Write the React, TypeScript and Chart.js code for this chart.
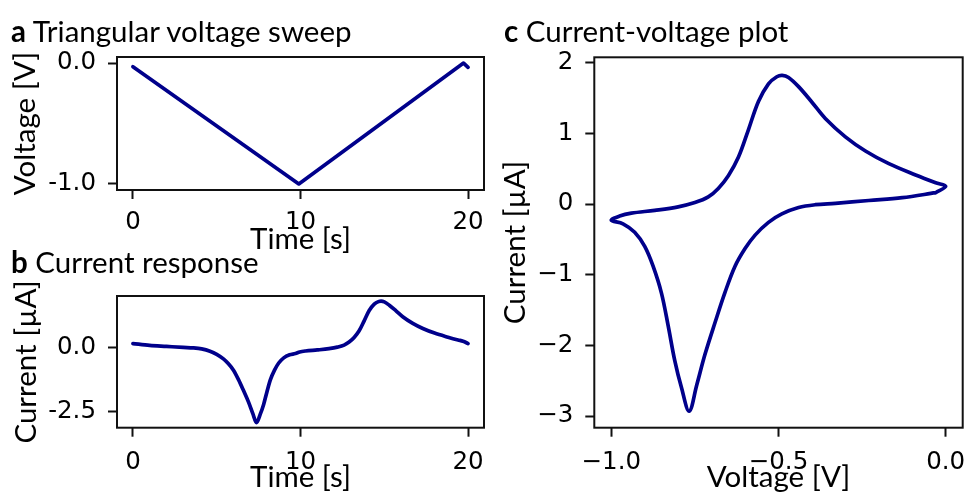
import React, { useEffect, useRef } from 'react';
import { Chart, registerables } from 'chart.js';

Chart.register(...registerables);

// ---------- data ----------
// Panel a: triangular voltage sweep (vertices)
const sweepTime = [0, 9.9, 19.73, 20];
const sweepVoltage = [-0.03, -1.0, 0.0, -0.035];

// Panels b and c: sampled response (time, applied voltage, current)
const timeS = [
  0.0, 1.0, 2.0, 3.0, 3.6, 4.1, 4.6, 5.0, 5.4, 5.7, 6.0, 6.3, 6.6, 6.9, 7.15, 7.37,
  7.6, 7.8, 8.0, 8.2, 8.45, 8.7, 9.0, 9.35, 9.7,
  9.95, 10.3, 11.0, 11.7, 12.2, 12.6, 12.9, 13.2, 13.5, 13.8, 14.1, 14.4, 14.65, 14.81,
  15.0, 15.3, 15.7, 16.1, 16.7, 17.3, 18.0, 18.8, 19.4, 19.7, 20.0,
];
const voltageV = [
  -0.03, -0.13, -0.23, -0.33, -0.39, -0.44, -0.49, -0.53, -0.57, -0.6, -0.63, -0.66, -0.69, -0.72, -0.745, -0.767,
  -0.79, -0.81, -0.83, -0.85, -0.875, -0.9, -0.93, -0.965, -1.0,
  -0.975, -0.94, -0.87, -0.8, -0.75, -0.71, -0.68, -0.65, -0.62, -0.59, -0.56, -0.53, -0.505, -0.489,
  -0.47, -0.44, -0.4, -0.36, -0.3, -0.24, -0.17, -0.09, -0.03, 0.0, -0.03,
];
const currentUA = [
  0.16, 0.09, 0.05, 0.01, -0.01, -0.05, -0.14, -0.26, -0.44, -0.63, -0.88, -1.25, -1.68, -2.13, -2.57, -2.93,
  -2.6, -2.22, -1.72, -1.26, -0.88, -0.6, -0.4, -0.28, -0.23,
  -0.17, -0.13, -0.09, -0.04, 0.02, 0.1, 0.22, 0.4, 0.66, 1.05, 1.45, 1.7, 1.8, 1.82,
  1.79, 1.66, 1.44, 1.21, 0.95, 0.75, 0.57, 0.41, 0.3, 0.25, 0.16,
];

// ---------- ticks ----------
const timeTicks = [0, 10, 20];
const timeTickLabels = ['0', '10', '20'];
const voltageTicksA = [0, -1];
const voltageTickLabelsA = ['0.0', '-1.0'];
const currentTicksB = [0, -2.5];
const currentTickLabelsB = ['0.0', '-2.5'];
const currentTicksC = [2, 1, 0, -1, -2, -3];
const currentTickLabelsC = ['2', '1', '0', '\u22121', '\u22122', '\u22123'];
const voltageTicksC = [-1, -0.5, 0];
const voltageTickLabelsC = ['\u22121.0', '\u22120.5', '0.0'];

// ---------- styles ----------
const LINE_COLOR = '#00008b';
const TICK_FONT = { family: 'DejaVu Sans', size: 24.5, lineHeight: 1 };
const LABEL_FONT_FAMILY = 'Lato';
const LABEL_FONT_SIZE = 29.5;
const TITLE_FONT = { family: LABEL_FONT_FAMILY, size: LABEL_FONT_SIZE, lineHeight: 1 };

type Geom = {
  left: number; top: number; width: number; height: number;
  areaLeft: number; areaTop: number; areaRight: number; areaBottom: number;
  xAxisH: number; xTickPad: number; yTitlePad: number;
};

const boxPlugin = {
  id: 'box',
  afterDatasetsDraw(chart: any) {
    const { ctx, chartArea: a } = chart;
    ctx.save();
    ctx.strokeStyle = '#111';
    ctx.lineWidth = 2;
    ctx.strokeRect(a.left, a.top, a.right - a.left, a.bottom - a.top);
    ctx.restore();
  },
};

function axis(
  min: number, max: number, ticks: number[], labels: string[], title: string,
  fit: (s: any) => void, tickPad: number, titlePad: any,
) {
  return {
    type: 'linear',
    min,
    max,
    afterFit: fit,
    afterBuildTicks: (s: any) => {
      s.ticks = ticks.map((v) => ({ value: v }));
    },
    ticks: {
      callback: (_v: any, i: number) => labels[i],
      font: TICK_FONT,
      color: '#000',
      padding: tickPad,
      maxRotation: 0,
      minRotation: 0,
      autoSkip: false,
    },
    grid: {
      drawOnChartArea: false,
      drawTicks: true,
      tickLength: 9,
      tickWidth: 2,
      tickColor: '#111',
      color: '#111',
    },
    border: { display: false },
    title: { display: true, text: title, font: TITLE_FONT, color: '#000', padding: titlePad },
  };
}

function buildConfig(
  g: Geom, points: { x: number; y: number }[],
  xr: [number, number], xt: number[], xl: string[], xTitle: string,
  yr: [number, number], yt: number[], yl: string[], yTitle: string,
  tension: number, monotone: boolean,
): any {
  const yAxisW = g.areaLeft - g.left;
  const fitX = (s: any) => {
    s.height = g.xAxisH;
    s.paddingLeft = 0; s.paddingRight = 0; s.paddingTop = 0; s.paddingBottom = 0;
  };
  const fitY = (s: any) => {
    s.width = yAxisW;
    s.paddingLeft = 0; s.paddingRight = 0; s.paddingTop = 0; s.paddingBottom = 0;
  };
  return {
    type: 'scatter',
    data: {
      datasets: [
        {
          data: points,
          showLine: true,
          borderColor: LINE_COLOR,
          backgroundColor: LINE_COLOR,
          borderWidth: 3.7,
          pointRadius: 0,
          tension,
          cubicInterpolationMode: monotone ? 'monotone' : 'default',
          borderCapStyle: 'round',
          borderJoinStyle: 'round',
        },
      ],
    },
    options: {
      responsive: false,
      maintainAspectRatio: false,
      animation: false,
      devicePixelRatio: 1,
      layout: {
        padding: {
          left: 0,
          top: g.areaTop - g.top,
          right: g.left + g.width - g.areaRight,
          bottom: g.top + g.height - g.areaBottom - g.xAxisH,
        },
      },
      plugins: { legend: { display: false }, tooltip: { enabled: false }, title: { display: false } },
      scales: {
        x: axis(xr[0], xr[1], xt, xl, xTitle, fitX, g.xTickPad, { top: 0, bottom: 0 }),
        y: axis(yr[0], yr[1], yt, yl, yTitle, fitY, 12, { top: g.yTitlePad, bottom: 0 }),
      },
    },
    plugins: [boxPlugin],
  };
}

const geomA: Geom = {
  left: 0, top: 0, width: 490, height: 256,
  areaLeft: 117, areaTop: 57, areaRight: 484, areaBottom: 190,
  xAxisH: 64.3, xTickPad: 11.8, yTitlePad: 10.8,
};
const geomB: Geom = {
  left: 0, top: 250, width: 490, height: 242,
  areaLeft: 117, areaTop: 296, areaRight: 484, areaBottom: 427.7,
  xAxisH: 64.2, xTickPad: 14, yTitlePad: 11.5,
};
const geomC: Geom = {
  left: 490, top: 0, width: 478, height: 492,
  areaLeft: 594.3, areaTop: 57.3, areaRight: 962.7, areaBottom: 427.7,
  xAxisH: 64.2, xTickPad: 13.4, yTitlePad: 10.8,
};

function Panel({ geom, config }: { geom: Geom; config: () => any }) {
  const ref = useRef<HTMLCanvasElement | null>(null);
  useEffect(() => {
    if (!ref.current) return;
    const chart = new Chart(ref.current, config());
    return () => chart.destroy();
  }, []);
  return (
    <canvas
      ref={ref}
      width={geom.width}
      height={geom.height}
      style={{ position: 'absolute', left: geom.left, top: geom.top, width: geom.width, height: geom.height }}
    />
  );
}

function PanelTitle({ letter, text, left, top }: { letter: string; text: string; left: number; top: number }) {
  return (
    <div
      style={{
        position: 'absolute', left, top, fontFamily: LABEL_FONT_FAMILY, fontSize: LABEL_FONT_SIZE,
        lineHeight: 1.2, color: '#000', whiteSpace: 'nowrap',
      }}
    >
      <b>{letter}</b> {text}
    </div>
  );
}

export default function App() {
  const cfgA = () =>
    buildConfig(
      geomA, sweepTime.map((t, i) => ({ x: t, y: sweepVoltage[i] })),
      [-0.95, 20.95], timeTicks, timeTickLabels, 'Time [s]',
      [-1.05, 0.05], voltageTicksA, voltageTickLabelsA, 'Voltage [V]', 0, false,
    );
  const cfgB = () =>
    buildConfig(
      geomB, timeS.map((t, i) => ({ x: t, y: currentUA[i] })),
      [-0.95, 20.95], timeTicks, timeTickLabels, 'Time [s]',
      [-3.13, 2.02], currentTicksB, currentTickLabelsB, 'Current [\u00b5A]', 0, true,
    );
  const cfgC = () =>
    buildConfig(
      geomC, voltageV.map((v, i) => ({ x: v, y: currentUA[i] })),
      [-1.0508, 0.0508], voltageTicksC, voltageTickLabelsC, 'Voltage [V]',
      [-3.164, 2.075], currentTicksC, currentTickLabelsC, 'Current [\u00b5A]', 0.35, false,
    );
  return (
    <div style={{ position: 'absolute', left: 0, top: 0, width: 968, height: 492, background: '#fff', overflow: 'hidden' }}>
      <Panel geom={geomA} config={cfgA} />
      <Panel geom={geomB} config={cfgB} />
      <Panel geom={geomC} config={cfgC} />
      <PanelTitle letter="a" text="Triangular voltage sweep" left={11} top={12.9} />
      <PanelTitle letter="b" text="Current response" left={11} top={244.4} />
      <PanelTitle letter="c" text="Current-voltage plot" left={504} top={12.9} />
    </div>
  );
}
